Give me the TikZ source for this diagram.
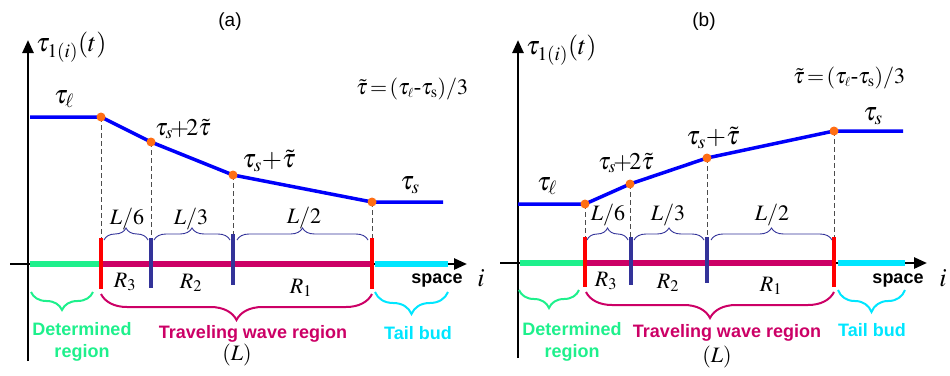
\documentclass[tikz,border=0pt]{standalone}
\usepackage{mathptmx}
\usepackage[no-math]{fontspec}
\setmainfont{Liberation Serif}
\setsansfont{Liberation Sans}
\usetikzlibrary{arrows.meta,decorations.pathreplacing}

\definecolor{curveblue}{RGB}{0,0,250}
\definecolor{knotorange}{RGB}{255,110,20}
\definecolor{wavered}{RGB}{204,0,102}
\definecolor{detgreen}{RGB}{30,240,140}
\definecolor{budcyan}{RGB}{0,230,255}
\definecolor{tickblue}{RGB}{51,51,153}

\tikzset{
  axis/.style={line width=2.6pt, -{Triangle[length=13pt,width=11pt]}},
  curve/.style={curveblue, line width=3.5pt, line join=round},
  knot/.style={circle, fill=knotorange, inner sep=0pt, minimum size=9pt},
  guide/.style={dash pattern=on 5pt off 3pt, black!70, line width=0.8pt},
  bound/.style={red, line width=4pt},
  split/.style={tickblue, line width=4pt},
  seg/.style={line width=5.5pt},
  upbrace/.style={decorate, decoration={brace, amplitude=12pt}, tickblue, line width=0.9pt},
  downbrace/.style={decorate, decoration={brace, mirror, amplitude=#1}, line width=2pt},
  axlab/.style={inner sep=0pt, anchor=west, font=\fontsize{26}{28}\selectfont},
  lab/.style={inner sep=0pt, font=\fontsize{26}{28}\selectfont},
  tight/.style={inner sep=0pt, font=\fontsize{24}{26}\selectfont},
  small/.style={inner sep=0pt, font=\fontsize{22}{24}\selectfont},
  formula/.style={inner sep=0pt, anchor=west, font=\fontsize{22}{24}\selectfont},
  region/.style={inner sep=0pt, font=\sffamily\bfseries\fontsize{18}{20}\selectfont},
  title/.style={inner sep=0pt, font=\sffamily\fontsize{19}{21}\selectfont}
}

\begin{document}
\begin{tikzpicture}[x=1pt, y=-1pt]
\useasboundingbox (0,0) rectangle (950,375);

%% panel (a)
\node[title] (tita) at (230,22) {(a)};
\coordinate (ya0) at (28,361);
\coordinate (ya1) at (28,40);
\draw[axis] (ya0) -- (ya1);
\coordinate (xa0) at (10,264);
\coordinate (xa1) at (467,264);
\draw[axis] (xa0) -- (xa1);
% regions on the axis
\coordinate (ga0) at (30,264);
\coordinate (ga1) at (101,264);
\coordinate (ca0) at (375,264);
\coordinate (ca1) at (448,264);
\coordinate (wa1) at (372,264);
\draw[seg, detgreen] (ga0) -- (ga1);
\draw[seg, wavered] (ga1) -- (wa1);
\draw[seg, budcyan] (ca0) -- (ca1);
% the curve
\coordinate (pa0) at (30,117);
\coordinate (pa1) at (101,117);
\coordinate (pa2) at (151,142);
\coordinate (pa3) at (233,175);
\coordinate (pa4) at (372,202);
\coordinate (pa5) at (443,202);
\draw[guide] (pa1) -- (101,238);
\draw[guide] (pa2) -- (151,238);
\draw[guide] (pa3) -- (233,236);
\draw[guide] (pa4) -- (372,238);
\draw[curve] (pa0) -- (pa1) -- (pa2) -- (pa3) -- (pa4) -- (pa5);
\node[knot] (ka1) at (pa1) {};
\node[knot] (ka2) at (pa2) {};
\node[knot] (ka3) at (pa3) {};
\node[knot] (ka4) at (pa4) {};
% ticks
\draw[bound] (101,238) -- (101,289);
\draw[split] (151,238) -- (151,288);
\draw[split] (233,234) -- (233,285);
\draw[bound] (372,238) -- (372,289);
% braces
\draw[upbrace] (104,240) -- (148,240);
\draw[upbrace] (154,240) -- (230,240);
\draw[upbrace] (237,240) -- (368,240);
\draw[downbrace=18pt, detgreen] (31,292) -- (93,292);
\draw[downbrace=26pt, wavered] (101,294) -- (372,294);
\draw[downbrace=22pt, budcyan] (375,292) -- (448,292);
% labels
\node[axlab] (ya) at (36,47) {$\tau_{1(i)}(t)$};
\node[formula] (fa) at (356,89) {$\tilde{\tau}\!=\!(\tau_{\scriptscriptstyle\ell}\mbox{-}\tau_{\mathrm{s}})/3$};
\node[lab] (la0) at (64,99) {$\tau_{\ell}$};
\node[tight] (la2) at (183,129) {$\tau_s\!{+}\!2\tilde{\tau}$};
\node[lab] (la3) at (269,161) {$\tau_s{+}\tilde{\tau}$};
\node[lab] (la4) at (410,185) {$\tau_s$};
\node[small] (da1) at (127,219) {$L/6$};
\node[small] (da2) at (191,219) {$L/3$};
\node[small] (da3) at (304,218) {$L/2$};
\node[small] (ra3) at (125,282) {$R_3$};
\node[small] (ra2) at (191,283) {$R_2$};
\node[small] (ra1) at (301,288) {$R_1$};
\node[region] (spa) at (437,281) {space};
\node[lab] (ia) at (481,278) {$i$};
\node[region, detgreen, align=center] (dea) at (82,342) {Determined\\[2pt]region};
\node[region, wavered] (twa) at (253,334) {Traveling wave region};
\node[small] (lla) at (237,355) {$(L)$};
\node[region, budcyan] (tba) at (418,333) {Tail bud};

%% panel (b)
\node[title] (titb) at (704,22) {(b)};
\coordinate (yb0) at (518,358);
\coordinate (yb1) at (518,40);
\draw[axis] (yb0) -- (yb1);
\coordinate (xb0) at (500,263);
\coordinate (xb1) at (927,263);
\draw[axis] (xb0) -- (xb1);
% regions on the axis
\coordinate (gb0) at (520,263);
\coordinate (gb1) at (585,263);
\coordinate (wb1) at (834,263);
\coordinate (cb0) at (838,263);
\coordinate (cb1) at (905,263);
\draw[seg, detgreen] (gb0) -- (gb1);
\draw[seg, wavered] (gb1) -- (wb1);
\draw[seg, budcyan] (cb0) -- (cb1);
% the curve
\coordinate (pb0) at (518,204);
\coordinate (pb1) at (585,204);
\coordinate (pb2) at (630,184);
\coordinate (pb3) at (707,158);
\coordinate (pb4) at (834,131);
\coordinate (pb5) at (903,131);
\draw[guide] (pb1) -- (585,237);
\draw[guide] (pb2) -- (630,237);
\draw[guide] (pb3) -- (707,237);
\draw[guide] (pb4) -- (834,237);
\draw[curve] (pb0) -- (pb1) -- (pb2) -- (pb3) -- (pb4) -- (pb5);
\node[knot] (kb1) at (pb1) {};
\node[knot] (kb2) at (pb2) {};
\node[knot] (kb3) at (pb3) {};
\node[knot] (kb4) at (pb4) {};
% ticks
\draw[bound] (585,237) -- (585,287);
\draw[split] (631,237) -- (631,285);
\draw[split] (707,237) -- (707,283);
\draw[bound] (834,237) -- (834,287);
% braces
\draw[upbrace] (587,240) -- (628,240);
\draw[upbrace] (634,240) -- (704,240);
\draw[upbrace] (711,240) -- (832,240);
\draw[downbrace=18pt, detgreen] (519,290) -- (579,290);
\draw[downbrace=26pt, wavered] (586,292) -- (834,292);
\draw[downbrace=22pt, budcyan] (838,290) -- (905,290);
% labels
\node[axlab] (yb) at (526,50) {$\tau_{1(i)}(t)$};
\node[formula] (fb) at (793,78) {$\tilde{\tau}\!=\!(\tau_{\scriptscriptstyle\ell}\mbox{-}\tau_{\mathrm{s}})/3$};
\node[lab] (lb0) at (547,186) {$\tau_{\ell}$};
\node[tight] (lb2) at (626,163) {$\tau_s\!{+}\!2\tilde{\tau}$};
\node[lab] (lb3) at (713,138) {$\tau_s{+}\tilde{\tau}$};
\node[lab] (lb4) at (873,116) {$\tau_s$};
\node[small] (db1) at (608,215) {$L/6$};
\node[small] (db2) at (668,215) {$L/3$};
\node[small] (db3) at (772,215) {$L/2$};
\node[small] (rb3) at (606,281) {$R_3$};
\node[small] (rb2) at (668,283) {$R_2$};
\node[small] (rb1) at (771,286) {$R_1$};
\node[region] (spb) at (898,281) {space};
\node[lab] (ib) at (943,278) {$i$};
\node[region, detgreen, align=center] (deb) at (572,342) {Determined\\[2pt]region};
\node[region, wavered] (twb) at (727,333) {Traveling wave region};
\node[small] (llb) at (717,357) {$(L)$};
\node[region, budcyan] (tbb) at (872,330) {Tail bud};
\end{tikzpicture}
\end{document}
